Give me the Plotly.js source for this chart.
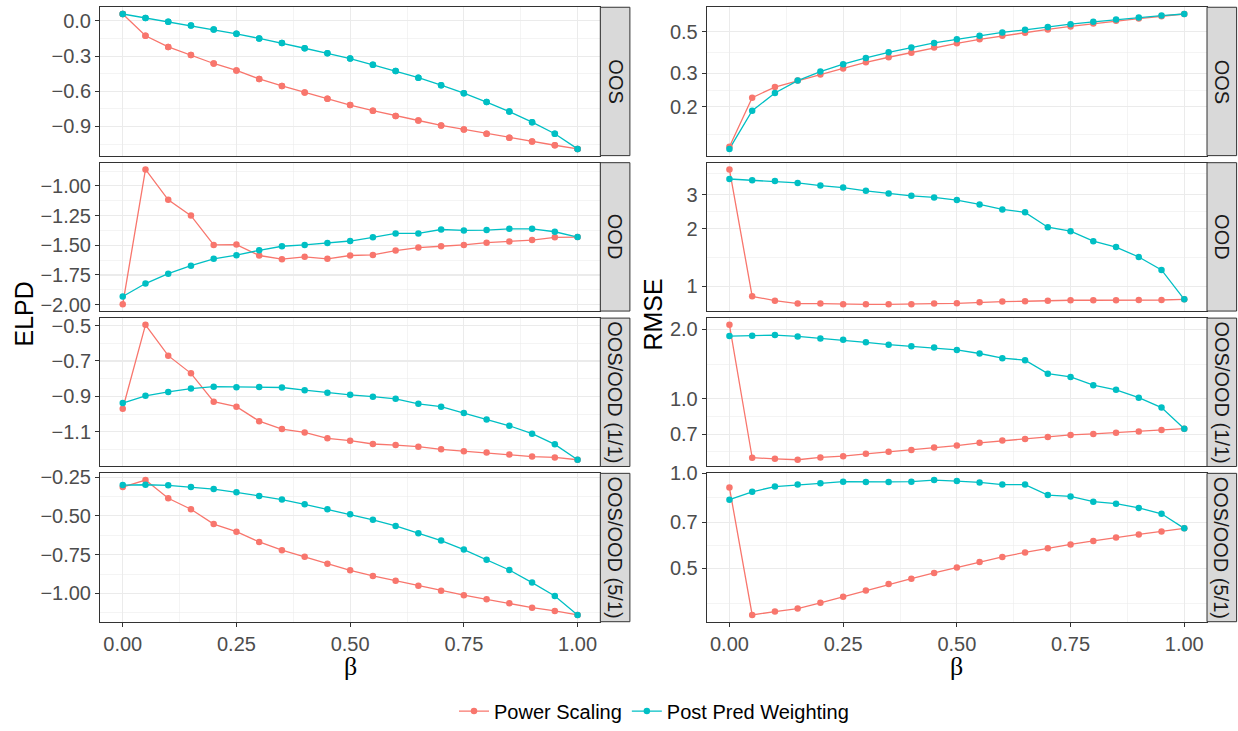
<!DOCTYPE html>
<html><head><meta charset="utf-8">
<script src="https://cdn.plot.ly/plotly-3.0.1.min.js"></script>
<style>html,body{margin:0;padding:0;background:#fff}#chart{width:1238px;height:731px}</style>
</head><body><div id="chart"></div>
<script>
// ---------- data ----------
const beta = [0, 0.05, 0.1, 0.15, 0.2, 0.25, 0.3, 0.35, 0.4, 0.45, 0.5, 0.55, 0.6, 0.65, 0.7, 0.75, 0.8, 0.85, 0.9, 0.95, 1];
const seriesNames = ["Power Scaling", "Post Pred Weighting"];
const rowLabels = ["OOS", "OOD", "OOS/OOD (1/1)", "OOS/OOD (5/1)"];
const metricLabels = ["ELPD", "RMSE"];
const xTickVals = [0, 0.25, 0.5, 0.75, 1];
const xTickText = ["0.00", "0.25", "0.50", "0.75", "1.00"];
const xMinorVals = [0.125, 0.375, 0.625, 0.875];

const elpdOOS_power = [0.059,-0.127,-0.222,-0.290,-0.363,-0.422,-0.495,-0.554,-0.610,-0.664,-0.717,-0.765,-0.810,-0.849,-0.891,-0.925,-0.962,-0.996,-1.029,-1.060,-1.091];
const elpdOOS_post  = [0.059,0.025,-0.008,-0.039,-0.073,-0.110,-0.149,-0.188,-0.233,-0.276,-0.321,-0.374,-0.427,-0.484,-0.548,-0.616,-0.692,-0.773,-0.863,-0.962,-1.091];
const elpdOOD_power = [-1.997,-0.861,-1.117,-1.250,-1.497,-1.494,-1.586,-1.617,-1.597,-1.614,-1.586,-1.581,-1.544,-1.519,-1.508,-1.497,-1.478,-1.469,-1.456,-1.433,-1.431];
const elpdOOD_post  = [-1.931,-1.822,-1.739,-1.672,-1.614,-1.583,-1.542,-1.508,-1.497,-1.481,-1.464,-1.433,-1.400,-1.400,-1.367,-1.375,-1.372,-1.361,-1.361,-1.386,-1.431];
const elpdMix11_power = [-0.970,-0.496,-0.670,-0.770,-0.930,-0.958,-1.040,-1.085,-1.104,-1.137,-1.150,-1.169,-1.175,-1.184,-1.199,-1.210,-1.217,-1.229,-1.240,-1.245,-1.258];
const elpdMix11_post  = [-0.938,-0.897,-0.875,-0.856,-0.845,-0.848,-0.847,-0.850,-0.865,-0.880,-0.891,-0.902,-0.914,-0.942,-0.958,-0.994,-1.031,-1.066,-1.111,-1.171,-1.258];
const elpdMix51_power = [-0.314,-0.269,-0.386,-0.457,-0.553,-0.602,-0.668,-0.721,-0.764,-0.808,-0.851,-0.887,-0.919,-0.951,-0.983,-1.011,-1.038,-1.064,-1.092,-1.113,-1.139];
const elpdMix51_post  = [-0.301,-0.299,-0.303,-0.314,-0.327,-0.348,-0.371,-0.395,-0.425,-0.457,-0.489,-0.525,-0.565,-0.612,-0.659,-0.717,-0.783,-0.849,-0.930,-1.017,-1.139];

const rmseOOS_power = [0.122,0.223,0.254,0.275,0.296,0.319,0.344,0.366,0.387,0.412,0.434,0.456,0.476,0.494,0.515,0.534,0.553,0.572,0.588,0.605,0.622];
const rmseOOS_post  = [0.119,0.190,0.236,0.275,0.307,0.336,0.363,0.389,0.412,0.436,0.456,0.476,0.496,0.512,0.531,0.549,0.565,0.581,0.595,0.610,0.622];
const rmseOOD_power = [4.06,0.888,0.843,0.814,0.814,0.807,0.807,0.807,0.807,0.814,0.817,0.827,0.834,0.837,0.843,0.847,0.847,0.847,0.850,0.850,0.857];
const rmseOOD_post  = [3.62,3.565,3.537,3.455,3.347,3.268,3.141,3.043,2.960,2.902,2.811,2.670,2.516,2.428,2.032,1.937,1.720,1.602,1.422,1.219,0.857];
const rmseMix11_power = [2.094,0.554,0.548,0.543,0.556,0.563,0.576,0.588,0.598,0.614,0.626,0.643,0.658,0.669,0.682,0.696,0.703,0.712,0.721,0.731,0.741];
const rmseMix11_post  = [1.872,1.878,1.891,1.866,1.829,1.805,1.758,1.718,1.690,1.668,1.630,1.572,1.501,1.471,1.285,1.243,1.145,1.093,1.010,0.915,0.741];
const rmseMix51_power = [0.902,0.356,0.365,0.373,0.389,0.407,0.426,0.446,0.464,0.484,0.503,0.524,0.544,0.562,0.579,0.596,0.611,0.627,0.641,0.655,0.670];
const rmseMix51_post  = [0.826,0.875,0.909,0.922,0.931,0.942,0.940,0.940,0.942,0.953,0.946,0.937,0.922,0.922,0.854,0.846,0.814,0.802,0.778,0.745,0.670];

// y-axis breaks per panel
const elpdTickVals = [[0,-0.3,-0.6,-0.9],[-1,-1.25,-1.5,-1.75,-2],[-0.5,-0.7,-0.9,-1.1],[-0.25,-0.5,-0.75,-1]];
const elpdTickText = [["0.0","\u22120.3","\u22120.6","\u22120.9"],["\u22121.00","\u22121.25","\u22121.50","\u22121.75","\u22122.00"],["\u22120.5","\u22120.7","\u22120.9","\u22121.1"],["\u22120.25","\u22120.50","\u22120.75","\u22121.00"]];
const elpdMinor = [[-0.15,-0.45,-0.75,-1.05],[-0.875,-1.125,-1.375,-1.625,-1.875],[-0.6,-0.8,-1.0,-1.2],[-0.375,-0.625,-0.875,-1.125]];
const rmseTickVals = [[0.2,0.3,0.5],[1,2,3],[0.7,1,2],[0.5,0.7,1]];
const rmseTickText = [["0.2","0.3","0.5"],["1","2","3"],["0.7","1.0","2.0"],["0.5","0.7","1.0"]];
const rmseMinor = [[0.1414,0.2449,0.3873],[0.7071,1.4142,2.4495,3.873],[0.5916,0.8367,1.4142],[0.3873,0.5916,0.8367]];

const colors = ["#F8766D", "#00BFC4"];

const panels = [
  [[elpdOOS_power, elpdOOS_post],[elpdOOD_power, elpdOOD_post],[elpdMix11_power, elpdMix11_post],[elpdMix51_power, elpdMix51_post]],
  [[rmseOOS_power, rmseOOS_post],[rmseOOD_power, rmseOOD_post],[rmseMix11_power, rmseMix11_post],[rmseMix51_power, rmseMix51_post]]
];

// ---------- layout geometry (pixels) ----------
const W = 1238, H = 731;
const colLeft = [100, 706.7], panelW = 500.3;
const rowTop = [7.3, 163.8, 320.3, 476.6], panelH = 149.4;
const stripW = 29.6;
const FONT = "Liberation Sans, Arial, sans-serif";

const layout = {
  width: W, height: H,
  margin: {l: 0, r: 0, t: 0, b: 0, pad: 0},
  paper_bgcolor: "#FFFFFF", plot_bgcolor: "#FFFFFF",
  font: {family: FONT, size: 20, color: "#1A1A1A"},
  showlegend: true,
  legend: {orientation: "h", x: 654 / W, xanchor: "center", y: 1 - 716 / H, yanchor: "middle",
           font: {family: FONT, size: 20, color: "#000000"}, bgcolor: "rgba(0,0,0,0)", traceorder: "normal"},
  shapes: [], annotations: []
};
const traces = [];

function expandRange(arrs, log) {
  let vals = [].concat(...arrs);
  if (log) vals = vals.map(v => Math.log10(v));
  const mn = Math.min(...vals), mx = Math.max(...vals), sp = mx - mn;
  return [mn - 0.05 * sp, mx + 0.05 * sp];
}

for (let c = 0; c < 2; c++) {
  for (let r = 0; r < 4; r++) {
    const idx = c * 4 + r + 1;
    const xn = "xaxis" + (idx === 1 ? "" : idx), yn = "yaxis" + (idx === 1 ? "" : idx);
    const xr = "x" + (idx === 1 ? "" : idx), yr = "y" + (idx === 1 ? "" : idx);
    const x0 = colLeft[c] / W, x1 = (colLeft[c] + panelW) / W;
    const yTop = 1 - rowTop[r] / H, yBot = 1 - (rowTop[r] + panelH) / H;
    const isLog = c === 1;
    const bottom = r === 3;
    layout[xn] = {
      domain: [x0, x1], anchor: yr, range: [-0.05, 1.05],
      tickmode: "array", tickvals: xTickVals, ticktext: xTickText,
      showticklabels: bottom, ticks: bottom ? "outside" : "", ticklen: 4, tickwidth: 1, tickcolor: "#333333",
      tickfont: {family: FONT, size: 20, color: "#4D4D4D"},
      showgrid: true, gridcolor: "#EBEBEB", gridwidth: 1.1,
      minor: {tickmode: "array", tickvals: xMinorVals, showgrid: true, gridcolor: "#EBEBEB", gridwidth: 0.55, ticks: ""},
      showline: true, mirror: true, linecolor: "#333333", linewidth: 1, zeroline: false, fixedrange: true
    };
    const data = panels[c][r];
    layout[yn] = {
      domain: [yBot, yTop], anchor: xr, type: isLog ? "log" : "linear",
      range: expandRange(data, isLog),
      tickmode: "array",
      tickvals: isLog ? rmseTickVals[r] : elpdTickVals[r],
      ticktext: isLog ? rmseTickText[r] : elpdTickText[r],
      ticks: "outside", ticklen: 4, tickwidth: 1, tickcolor: "#333333",
      tickfont: {family: FONT, size: 20, color: "#4D4D4D"},
      showgrid: true, gridcolor: "#EBEBEB", gridwidth: 1.1,
      minor: {tickmode: "array", tickvals: isLog ? rmseMinor[r] : elpdMinor[r], showgrid: true, gridcolor: "#EBEBEB", gridwidth: 0.55, ticks: ""},
      showline: true, mirror: true, linecolor: "#333333", linewidth: 1, zeroline: false, fixedrange: true
    };
    // lines first, then points (ggplot layer order)
    for (let s = 0; s < 2; s++) {
      const leg = (idx === 1);
      traces.push({
        x: beta, y: data[s], xaxis: xr, yaxis: yr, type: "scatter",
        mode: leg ? "lines+markers" : "lines", name: seriesNames[s], legendgroup: seriesNames[s], showlegend: leg,
        line: {color: colors[s], width: 1.3}, marker: {color: colors[s], size: 6.5}, hoverinfo: "skip"
      });
    }
    for (let s = 0; s < 2; s++) {
      traces.push({
        x: beta, y: data[s], xaxis: xr, yaxis: yr, type: "scatter",
        mode: "markers", name: seriesNames[s], legendgroup: seriesNames[s], showlegend: false,
        marker: {color: colors[s], size: 6.5}, hoverinfo: "skip"
      });
    }
    // strip
    const sx0 = (colLeft[c] + panelW) / W, sx1 = (colLeft[c] + panelW + stripW) / W;
    layout.shapes.push({type: "rect", xref: "paper", yref: "paper", x0: sx0, x1: sx1, y0: yBot, y1: yTop,
      fillcolor: "#D9D9D9", line: {color: "#333333", width: 1}, layer: "above"});
    layout.annotations.push({xref: "paper", yref: "paper", x: (sx0 + sx1) / 2, y: (yBot + yTop) / 2,
      text: rowLabels[r], textangle: 90, showarrow: false, xanchor: "center", yanchor: "middle",
      font: {family: FONT, size: 20, color: "#1A1A1A"}});
  }
  // x title (beta)
  layout.annotations.push({xref: "paper", yref: "paper", x: (colLeft[c] + panelW / 2) / W, y: 1 - 671 / H,
    text: "\u03B2", showarrow: false, xanchor: "center", yanchor: "middle",
    font: {family: "Liberation Serif, DejaVu Serif, serif", size: 26, color: "#000000"}});
}
// y titles
layout.annotations.push({xref: "paper", yref: "paper", x: 24 / W, y: 1 - 316.7 / H, text: metricLabels[0],
  textangle: -90, showarrow: false, xanchor: "center", yanchor: "middle", font: {family: FONT, size: 25, color: "#000000"}});
layout.annotations.push({xref: "paper", yref: "paper", x: 653 / W, y: 1 - 316.7 / H, text: metricLabels[1],
  textangle: -90, showarrow: false, xanchor: "center", yanchor: "middle", font: {family: FONT, size: 25, color: "#000000"}});

Plotly.newPlot("chart", traces, layout, {displayModeBar: false, staticPlot: true});
</script></body></html>
